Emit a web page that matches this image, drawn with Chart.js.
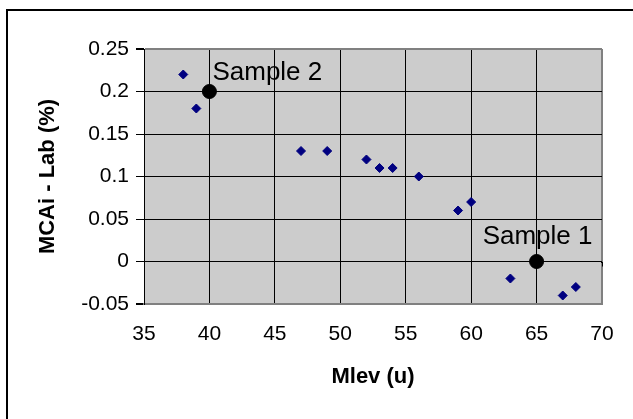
<!DOCTYPE html>
<html>
<head>
<meta charset="utf-8">
<script src="https://cdn.jsdelivr.net/npm/chart.js@4.4.1/dist/chart.umd.min.js"></script>
<style>
  html, body { margin: 0; padding: 0; background: #ffffff; }
  #wrap { width: 633px; height: 419px; position: relative; }
</style>
</head>
<body>
<div id="wrap"><canvas id="chart" width="633" height="419"></canvas></div>
<script>
// Measured differences between MCAi and the lab, against Mlev
const mlev = [38, 39, 47, 49, 52, 53, 54, 56, 59, 60, 63, 67, 68];
const diffPct = [0.22, 0.18, 0.13, 0.13, 0.12, 0.11, 0.11, 0.10, 0.06, 0.07, -0.02, -0.04, -0.03];

// Reference samples, drawn as large dots with a name
const sampleNames = ['Sample 2', 'Sample 1'];
const sampleMlev = [40, 65];
const sampleDiff = [0.2, 0];

// Axis ranges and labels
const xTicks = [35, 40, 45, 50, 55, 60, 65, 70];
const yTicks = [-0.05, 0, 0.05, 0.1, 0.15, 0.2, 0.25];
const xTitle = 'Mlev (u)';
const yTitle = 'MCAi - Lab (%)';

const FONT = "'Liberation Sans', Arial, sans-serif";
const PLOT_BG = '#cccccc';
const EDGE = '#808080';

const points = mlev.map((x, i) => ({ x, y: diffPct[i] }));
const samples = sampleMlev.map((x, i) => ({ x, y: sampleDiff[i], name: sampleNames[i] }));

const near = (a, b) => Math.abs(a - b) < 1e-9;

// grey plot area behind the grid
const plotBackground = {
  id: 'plotBackground',
  beforeDraw(chart) {
    const { ctx, chartArea: a } = chart;
    ctx.save();
    ctx.fillStyle = PLOT_BG;
    ctx.fillRect(a.left, a.top, a.right - a.left, a.bottom - a.top);
    ctx.restore();
  }
};

// outer frame around the whole chart, plus the short end tick of the zero line
const outerFrame = {
  id: 'outerFrame',
  afterDraw(chart) {
    const { ctx, scales, chartArea: a } = chart;
    ctx.save();
    ctx.strokeStyle = '#000000';
    ctx.lineWidth = 2;
    ctx.beginPath();
    ctx.moveTo(7, chart.height + 5);
    ctx.lineTo(7, 10);
    ctx.lineTo(chart.width + 5, 10);
    ctx.stroke();
    const y0 = Math.round(scales.y.getPixelForValue(0)) + 0.5;
    ctx.lineWidth = 1;
    ctx.beginPath();
    ctx.moveTo(a.right - 1, y0);
    ctx.lineTo(a.right + 1, y0);
    ctx.moveTo(a.right + 0.5, y0 - 0.5);
    ctx.lineTo(a.right + 0.5, y0 + 4);
    ctx.stroke();
    ctx.restore();
  }
};

// names written next to the sample dots
const sampleLabels = {
  id: 'sampleLabels',
  afterDatasetsDraw(chart) {
    const { ctx, scales } = chart;
    ctx.save();
    ctx.font = '26px ' + FONT;
    ctx.fillStyle = '#000000';
    ctx.textBaseline = 'alphabetic';
    samples.forEach((s, i) => {
      const px = scales.x.getPixelForValue(s.x);
      const py = scales.y.getPixelForValue(s.y);
      if (i === 0) {
        ctx.textAlign = 'left';
        ctx.fillText(s.name, px + 3, py - 12);
      } else {
        ctx.textAlign = 'center';
        ctx.fillText(s.name, px + 1, py - 18);
      }
    });
    ctx.restore();
  }
};

new Chart(document.getElementById('chart'), {
  type: 'scatter',
  data: {
    datasets: [
      {
        label: 'MCAi - Lab',
        data: points,
        pointStyle: 'rectRot',
        pointRadius: 4.5,
        pointHoverRadius: 4.5,
        backgroundColor: '#000080',
        borderColor: '#000080',
        borderWidth: 1
      },
      {
        label: 'Samples',
        data: samples,
        pointStyle: 'circle',
        pointRadius: 7,
        pointHoverRadius: 7,
        backgroundColor: '#000000',
        borderColor: '#000000',
        borderWidth: 1
      }
    ]
  },
  options: {
    responsive: false,
    animation: false,
    devicePixelRatio: 1,
    events: [],
    layout: { padding: { left: 0, top: 49, right: 31, bottom: 0 } },
    plugins: {
      legend: { display: false },
      tooltip: { enabled: false },
      title: { display: false }
    },
    scales: {
      x: {
        type: 'linear',
        min: xTicks[0],
        max: xTicks[xTicks.length - 1],
        afterBuildTicks(scale) { scale.ticks = xTicks.map(v => ({ value: v })); },
        afterFit(scale) { scale.height = 115; },
        ticks: {
          font: { family: FONT, size: 21 },
          color: '#000000',
          padding: 18,
          maxRotation: 0,
          callback: v => String(v)
        },
        grid: {
          drawTicks: false,
          color: ctx => (ctx.tick && near(ctx.tick.value, 70)) ? EDGE : '#000000',
          lineWidth: ctx => (ctx.tick && near(ctx.tick.value, 70)) ? 2 : 1
        },
        border: { display: true, color: EDGE, width: 2 },
        title: {
          display: true,
          text: xTitle,
          font: { family: FONT, size: 22, weight: 'bold' },
          color: '#000000',
          padding: { top: 0, bottom: 29 }
        }
      },
      y: {
        type: 'linear',
        min: yTicks[0],
        max: yTicks[yTicks.length - 1],
        afterBuildTicks(scale) { scale.ticks = yTicks.map(v => ({ value: v })); },
        afterFit(scale) { scale.width = 144; },
        ticks: {
          font: { family: FONT, size: 21 },
          color: '#000000',
          padding: 7,
          callback: v => String(Number(v.toFixed(2)))
        },
        grid: {
          tickLength: 8,
          tickColor: '#000000',
          color: ctx => (ctx.tick && (near(ctx.tick.value, 0.25) || near(ctx.tick.value, -0.05))) ? EDGE : '#000000',
          lineWidth: ctx => (ctx.tick && (near(ctx.tick.value, 0.25) || near(ctx.tick.value, -0.05))) ? 2 : 1
        },
        border: { display: true, color: '#000000', width: 1 },
        title: {
          display: true,
          text: yTitle,
          font: { family: FONT, size: 22, weight: 'bold' },
          color: '#000000',
          padding: { top: 35, bottom: 0 }
        }
      }
    }
  },
  plugins: [plotBackground, outerFrame, sampleLabels]
});
</script>
</body>
</html>
